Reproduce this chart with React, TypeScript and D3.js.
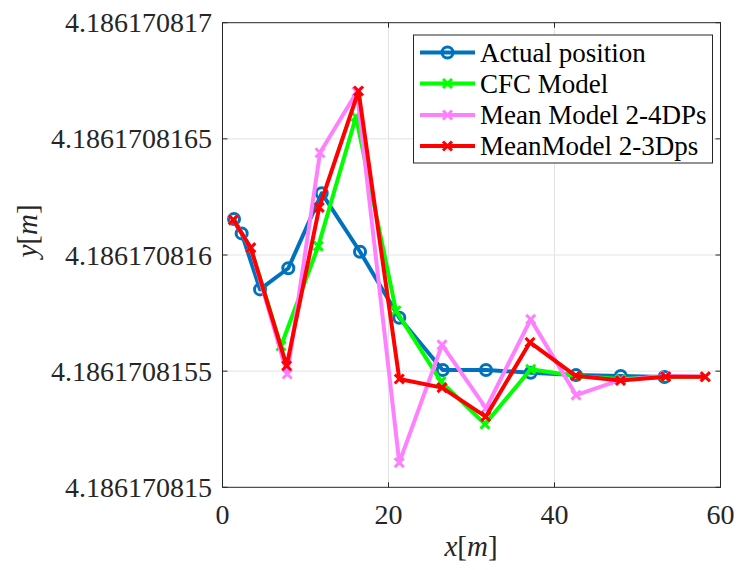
import React from "react";
import * as d3 from "d3";

// Horizontal positions [m] of each series
const actualX = [1.39, 2.31, 4.52, 7.93, 11.95, 16.57, 21.3, 26.53, 31.75, 37.13, 42.59, 47.98, 53.25];
const actualY = [
  4.186170816155, 4.186170816093, 4.186170815852, 4.186170815943, 4.186170816266,
  4.186170816014, 4.18617081573, 4.186170815505, 4.186170815505, 4.186170815493,
  4.186170815483, 4.186170815479, 4.186170815475,
];

const cfcX = [1.3, 3.4, 7.05, 11.54, 16.08, 20.9, 26.33, 31.63, 37.13, 42.55, 47.95, 53.4, 58.17];
const cfcY = [
  4.186170816151, 4.186170816031, 4.186170815608, 4.186170816038, 4.186170816595,
  4.18617081576, 4.186170815455, 4.186170815272, 4.186170815508, 4.186170815479,
  4.186170815466, 4.186170815475, 4.186170815475,
];

const mean24X = [1.3, 3.4, 7.8, 11.75, 16.2, 21.3, 26.45, 31.75, 37.13, 42.6, 47.95, 53.4, 58.17];
const mean24Y = [
  4.186170816151, 4.186170816031, 4.186170815488, 4.18617081644, 4.186170816703,
  4.186170815106, 4.186170815613, 4.18617081534, 4.186170815723, 4.186170815397,
  4.186170815462, 4.186170815479, 4.186170815476,
];

const mean23X = [1.3, 3.4, 7.73, 11.66, 16.39, 21.3, 26.45, 31.71, 37.05, 42.55, 47.95, 53.4, 58.17];
const mean23Y = [
  4.186170816151, 4.186170816031, 4.186170815523, 4.186170816205, 4.186170816706,
  4.186170815466, 4.186170815429, 4.186170815304, 4.186170815624, 4.18617081548,
  4.18617081546, 4.186170815476, 4.186170815476,
];

const seriesNames = ["Actual position", "CFC Model", "Mean Model 2-4DPs", "MeanModel 2-3Dps"];
const seriesColors = ["#0072BD", "#00FF00", "#FF80FF", "#FF0000"];
const seriesMarkers = ["o", "x", "x", "x"];

const xTicks = [0, 20, 40, 60];
const yTicks = [4.186170815, 4.1861708155, 4.186170816, 4.1861708165, 4.186170817];
const yTickLabels = ["4.186170815", "4.1861708155", "4.186170816", "4.1861708165", "4.186170817"];

const W = 739;
const H = 570;
const left = 222.5;
const right = 720.5;
const top = 22.7;
const bottom = 487.3;
const FONT = "Liberation Serif";
const AXIS = "#262626";
const LINE_W = 4;

const x = d3.scaleLinear().domain([0, 60]).range([left, right]);
const y = d3.scaleLinear().domain([yTicks[0], yTicks[yTicks.length - 1]]).range([bottom, top]);

const series = [
  { xs: actualX, ys: actualY },
  { xs: cfcX, ys: cfcY },
  { xs: mean24X, ys: mean24Y },
  { xs: mean23X, ys: mean23Y },
];

function Marker({ kind, cx, cy, color }: { kind: string; cx: number; cy: number; color: string }) {
  if (kind === "o") {
    return <circle cx={cx} cy={cy} r={5.5} fill="none" stroke={color} strokeWidth={3} />;
  }
  const s = 4.5;
  return (
    <path
      d={`M${cx - s},${cy - s}L${cx + s},${cy + s}M${cx - s},${cy + s}L${cx + s},${cy - s}`}
      stroke={color}
      strokeWidth={3}
      fill="none"
    />
  );
}

export default function App() {
  const line = d3
    .line<[number, number]>()
    .x((d) => x(d[0]))
    .y((d) => y(d[1]));

  const legendX = 413.5;
  const legendY = 35;
  const legendW = 299;
  const legendH = 128;
  const rowY = [52.5, 83.5, 115, 146];

  return (
    <svg width={W} height={H} viewBox={`0 0 ${W} ${H}`} style={{ position: "absolute", left: 0, top: 0 }}>
      <rect x={0} y={0} width={W} height={H} fill="#fff" />
      {/* grid */}
      {xTicks.slice(1, -1).map((t) => (
        <line key={"gx" + t} x1={x(t)} x2={x(t)} y1={top} y2={bottom} stroke="#e3e3e3" strokeWidth={1} />
      ))}
      {yTicks.slice(1, -1).map((t) => (
        <line key={"gy" + t} x1={left} x2={right} y1={y(t)} y2={y(t)} stroke="#e3e3e3" strokeWidth={1} />
      ))}

      {/* data */}
      {series.map((s, i) => {
        const pts = s.xs.map((v, j) => [v, s.ys[j]] as [number, number]);
        return (
          <g key={"s" + i}>
            <path d={line(pts) || ""} fill="none" stroke={seriesColors[i]} strokeWidth={LINE_W} strokeLinejoin="round" />
            {pts.map((p, j) => (
              <Marker key={j} kind={seriesMarkers[i]} cx={x(p[0])} cy={y(p[1])} color={seriesColors[i]} />
            ))}
          </g>
        );
      })}

      {/* axes box */}
      <rect x={left} y={top} width={right - left} height={bottom - top} fill="none" stroke={AXIS} strokeWidth={1} />
      {xTicks.map((t) => (
        <g key={"tx" + t}>
          <line x1={x(t)} x2={x(t)} y1={bottom} y2={bottom - 5} stroke={AXIS} />
          <line x1={x(t)} x2={x(t)} y1={top} y2={top + 5} stroke={AXIS} />
          <text
            x={x(t)}
            y={514}
            textAnchor="middle"
            dominantBaseline="central"
            fontSize={28}
            fontFamily={FONT}
            fill={AXIS}
          >
            {t}
          </text>
        </g>
      ))}
      {yTicks.map((t, i) => (
        <g key={"ty" + i}>
          <line x1={left} x2={left + 5} y1={y(t)} y2={y(t)} stroke={AXIS} />
          <line x1={right} x2={right - 5} y1={y(t)} y2={y(t)} stroke={AXIS} />
          <text
            x={212}
            y={y(t)}
            textAnchor="end"
            dominantBaseline="central"
            fontSize={28}
            fontFamily={FONT}
            fill={AXIS}
          >
            {yTickLabels[i]}
          </text>
        </g>
      ))}

      {/* axis labels */}
      <text x={471} y={556} textAnchor="middle" fontSize={29} fontFamily={FONT} fill={AXIS}>
        <tspan fontStyle="italic">x</tspan>
        <tspan>[</tspan>
        <tspan fontStyle="italic">m</tspan>
        <tspan>]</tspan>
      </text>
      <text
        transform={`translate(37,231) rotate(-90)`}
        textAnchor="middle"
        fontSize={29}
        fontFamily={FONT}
        fill={AXIS}
      >
        <tspan fontStyle="italic">y</tspan>
        <tspan>[</tspan>
        <tspan fontStyle="italic">m</tspan>
        <tspan>]</tspan>
      </text>

      {/* legend */}
      <rect x={legendX} y={legendY} width={legendW} height={legendH} fill="#fff" stroke={AXIS} strokeWidth={1} />
      {seriesNames.map((name, i) => (
        <g key={"lg" + i}>
          <line x1={420} x2={475} y1={rowY[i]} y2={rowY[i]} stroke={seriesColors[i]} strokeWidth={LINE_W} />
          <Marker kind={seriesMarkers[i]} cx={447.5} cy={rowY[i]} color={seriesColors[i]} />
          <text x={480} y={rowY[i]} dominantBaseline="central" fontSize={27} fontFamily={FONT} fill="#000">
            {name}
          </text>
        </g>
      ))}
    </svg>
  );
}
